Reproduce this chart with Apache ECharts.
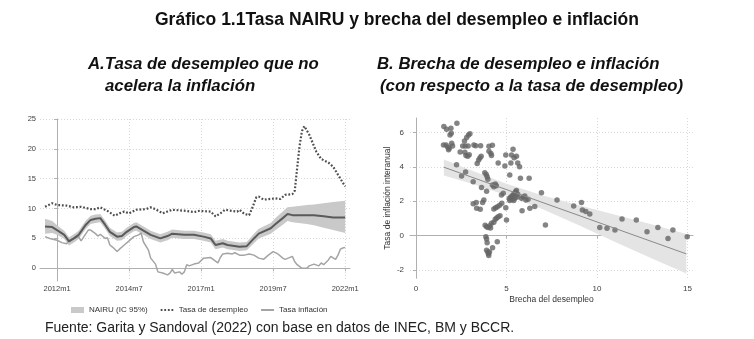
<!DOCTYPE html>
<html>
<head>
<meta charset="utf-8">
<script src="https://cdn.jsdelivr.net/npm/echarts@6/dist/echarts.min.js"></script>
<style>
  html, body { margin: 0; padding: 0; background: #fff; }
  #chart { width: 754px; height: 339px; }
</style>
</head>
<body>
<div id="chart"></div>
<script>
// ---------- Panel A: NAIRU, desempleo e inflación (meses 'AAAAmM') ----------
const nairuMeses = ['2011m8','2011m11','2012m1','2012m4','2012m6','2012m8','2012m10','2013m1','2013m3','2013m5',
  '2013m7','2013m9','2013m11','2014m2','2014m4','2014m6','2014m9','2014m10','2015m1','2015m4',
  '2015m8','2015m11','2016m1','2016m6','2016m10','2017m2','2017m5','2017m7','2017m10','2017m12',
  '2018m5','2018m8','2018m11','2019m1','2019m6','2019m8','2019m11','2020m1','2020m3','2020m9',
  '2020m12','2021m4','2021m8','2022m1'];
const nairu = [7.0,6.9,6.4,5.6,4.5,5.0,5.6,7.3,8.1,8.3,
  8.4,7.3,6.1,5.3,5.4,6.1,6.9,7.0,6.3,5.6,
  5.0,5.4,5.8,5.6,5.6,5.3,5.0,3.9,4.2,3.9,
  3.6,3.7,5.0,5.8,6.7,7.4,8.4,9.1,8.9,8.9,
  8.9,8.7,8.5,8.5];
const nairuInf = [5.8,5.9,5.6,4.9,3.8,4.3,4.9,6.6,7.4,7.6,
  7.7,6.6,5.4,4.6,4.7,5.4,6.2,6.3,5.6,4.9,
  4.3,4.7,5.1,4.9,4.9,4.6,4.3,3.2,3.5,3.2,
  2.9,3.0,4.2,5.0,5.8,6.4,7.3,7.9,7.7,7.4,
  7.2,6.8,6.4,5.9];
const nairuSup = [8.3,7.9,7.2,6.3,5.2,5.7,6.3,8.0,8.8,9.0,
  9.1,8.0,6.8,6.0,6.1,6.8,7.6,7.7,7.0,6.3,
  5.7,6.1,6.5,6.3,6.3,6.0,5.7,4.6,4.9,4.6,
  4.3,4.4,5.8,6.6,7.6,8.4,9.5,10.2,10.3,10.6,
  10.7,10.9,11.1,11.3];

const desempleoMeses = ['2011m8','2011m11','2012m1','2012m5','2012m8','2012m11','2013m1','2013m3','2013m5','2013m7',
  '2013m10','2014m1','2014m3','2014m5','2014m7','2014m10','2015m2','2015m4','2015m6','2015m9',
  '2015m11','2016m1','2016m7','2016m10','2016m12','2017m5','2017m7','2017m9','2017m11','2018m2',
  '2018m4','2018m5','2018m7','2018m9','2018m10','2018m12','2019m1','2019m3','2019m8','2019m10',
  '2019m12','2020m3','2020m4','2020m5','2020m6','2020m7','2020m8','2020m10','2021m1','2021m3',
  '2021m6','2021m8','2021m11','2022m1'];
const desempleo = [10.3,10.9,10.6,10.5,10.2,10.3,10.1,9.9,9.9,10.2,
  9.6,8.8,9.2,9.5,9.2,9.8,9.9,10.2,9.9,9.2,
  9.5,9.8,9.6,9.4,9.6,9.5,8.7,9.2,9.8,9.6,
  9.5,9.8,9.1,8.9,9.8,11.9,12.0,11.5,11.7,11.6,
  12.3,12.4,13.0,16.8,20.5,23.0,23.8,22.4,19.5,18.3,
  17.7,17.0,15.0,13.7];

const inflacionMeses = ['2011m8','2011m10','2012m1','2012m3','2012m5','2012m6','2012m8','2012m10','2012m11','2013m2',
  '2013m3','2013m5','2013m6','2013m7','2013m9','2013m10','2013m11','2013m12','2014m2','2014m3',
  '2014m5','2014m7','2014m9','2014m11','2014m12','2015m1','2015m3','2015m4','2015m6','2015m7',
  '2015m9','2015m11','2015m12','2016m1','2016m2','2016m4','2016m5','2016m6','2016m7','2016m8',
  '2016m10','2016m12','2017m2','2017m5','2017m6','2017m8','2017m9','2017m10','2017m12','2018m2',
  '2018m3','2018m5','2018m7','2018m9','2018m11','2019m1','2019m3','2019m5','2019m7','2019m9',
  '2019m11','2019m12','2020m3','2020m4','2020m5','2020m7','2020m9','2020m10','2020m12','2021m2',
  '2021m3','2021m4','2021m6','2021m7','2021m9','2021m10','2021m11','2021m12','2022m1'];
const inflacion = [5.3,5.0,4.7,4.3,4.1,4.7,5.0,5.3,4.6,6.4,
  6.4,5.8,5.4,5.7,5.0,5.1,3.9,3.6,2.8,3.2,
  3.9,4.6,5.3,5.6,5.9,4.4,3.1,1.7,0.7,-0.6,
  -0.8,-1.1,-0.8,-0.2,-0.8,-0.6,-1.0,-0.6,0.6,0.4,
  0.7,0.9,1.7,1.8,1.5,0.9,1.8,2.4,2.5,2.4,
  2.6,2.2,2.2,2.4,2.2,1.7,1.5,2.2,2.8,2.4,
  1.7,1.5,2.0,1.1,0.6,0.0,0.0,0.4,0.7,0.4,
  0.9,0.6,1.4,2.0,1.5,2.2,3.2,3.4,3.5];

const etiquetasA = ['2012m1','2014m7','2017m1','2019m7','2022m1'];
const ticksAY = [0, 5, 10, 15, 20, 25];

// ---------- Panel B: brecha del desempleo vs. inflación interanual ----------
const brecha = [1.54,1.69,1.93,2.26,1.88,1.95,1.52,1.66,1.97,1.84,2.02,1.75,1.80,
  2.24,2.52,2.74,2.44,2.58,2.68,2.80,2.90,2.98,2.72,2.88,2.70,2.76,2.86,2.94,
  3.20,3.30,3.57,3.16,3.38,3.46,3.53,3.60,3.16,3.33,3.35,3.55,
  3.62,3.75,3.68,3.90,3.80,3.88,3.93,3.97,4.03,4.03,4.14,4.17,4.22,
  3.82,3.90,3.98,4.08,4.12,3.86,3.90,3.93,3.90,3.97,4.02,4.06,4.00,4.23,
  4.22,4.30,4.38,4.44,4.17,4.30,4.38,4.46,4.54,4.64,4.30,4.40,4.50,4.62,4.74,
  4.49,4.54,4.72,4.82,4.96,5.00,4.91,4.96,
  5.18,5.24,5.28,5.36,5.42,5.55,5.62,5.72,5.77,
  5.15,5.22,5.28,5.35,5.42,5.50,5.55,5.46,5.58,5.30,5.18,5.62,5.40,
  5.83,5.92,6.01,5.86,6.07,6.19,6.29,6.25,6.56,
  6.93,7.15,7.79,8.71,9.14,9.19,9.38,9.60,
  10.15,10.55,10.99,11.38,12.17,12.76,13.36,13.92,14.19,14.98];
const inflacionB = [6.34,6.18,6.24,6.53,5.85,5.95,5.27,5.27,5.37,5.08,5.21,5.15,5.00,
  4.12,3.47,3.70,4.86,5.21,5.50,5.70,5.85,5.92,5.21,5.21,4.85,4.66,4.62,4.70,
  5.27,5.22,5.22,3.14,4.20,4.40,4.52,4.62,1.86,1.92,1.60,1.54,
  2.80,2.07,1.92,2.58,3.65,3.55,3.42,3.28,5.20,4.90,4.78,4.66,5.25,
  0.60,0.52,0.48,0.58,0.45,-0.06,-0.20,-0.42,-0.85,-0.95,-1.16,-0.95,-1.05,-0.70,
  2.95,2.85,3.00,2.90,0.72,0.78,0.95,1.02,1.10,1.15,1.55,1.62,1.68,1.76,1.88,
  -0.35,4.22,2.36,2.46,1.62,0.91,4.05,4.69,
  3.53,4.22,4.69,5.02,4.53,4.62,4.22,4.00,3.33,
  2.16,2.22,2.28,2.35,2.45,2.55,2.62,2.18,2.25,2.10,2.05,2.40,2.05,
  2.17,2.25,2.31,1.45,2.07,2.11,1.59,3.33,1.69,
  2.50,0.62,2.07,1.72,1.92,1.49,1.40,1.26,
  0.48,0.43,0.33,0.97,0.91,0.23,0.47,-0.16,0.33,-0.06];

// recta ajustada y su intervalo de confianza
const ajusteX = [1.54, 14.93];
const ajusteY = [3.98, -1.06];
const bandaX = [1.54, 3, 5, 7, 9, 11, 13, 14.93];
const bandaInf = [3.50, 3.05, 2.35, 1.53, 0.60, -0.37, -1.32, -2.20];
const bandaSup = [4.43, 3.81, 3.01, 2.33, 1.76, 1.21, 0.66, 0.10];

const ticksBX = [0, 5, 10, 15];
const ticksBY = [-2, 0, 2, 4, 6];

// ---------- helpers ----------
const FONT = 'Liberation Sans, Arial, sans-serif';
const ym = s => { const p = s.split('m'); return (Number(p[0]) - 2012) * 12 + (Number(p[1]) - 1); };
const ymLabel = v => {
  const y = 2012 + Math.floor(v / 12);
  const m = ((v % 12) + 12) % 12 + 1;
  return y + 'm' + m;
};

// shaded band drawn as one polygon through the axis scales
function bandSeries(name, xs, lo, hi, axisIdx, color) {
  return {
    name: name,
    type: 'custom',
    xAxisIndex: axisIdx, yAxisIndex: axisIdx,
    itemStyle: { color: color },
    encode: { x: 0, y: [1, 2] },
    data: xs.map((x, i) => [x, lo[i], hi[i]]),
    z: 1,
    silent: true,
    renderItem: function (params, api) {
      if (params.dataIndex !== 0) return null;
      const pts = [];
      for (let i = 0; i < xs.length; i++) pts.push(api.coord([xs[i], hi[i]]));
      for (let i = xs.length - 1; i >= 0; i--) pts.push(api.coord([xs[i], lo[i]]));
      return { type: 'polygon', shape: { points: pts }, style: { fill: color } };
    }
  };
}

const axisLineStyle = { color: '#b0b0b0', width: 1 };
const gridLine = { show: true, lineStyle: { color: '#d8d8d8', type: [1, 2], width: 1 } };
const tickLabA = { fontFamily: FONT, fontSize: 7.5, color: '#404040' };
const tickLabB = { fontFamily: FONT, fontSize: 8, color: '#404040' };

const chart = echarts.init(document.getElementById('chart'), null, { renderer: 'canvas' });

chart.setOption({
  animation: false,
  backgroundColor: '#ffffff',
  grid: [
    { left: 40, top: 119, width: 310, height: 162 },
    { left: 410, top: 118, width: 283, height: 160.3 }
  ],
  xAxis: [
    {
      type: 'value', gridIndex: 0,
      min: ym('2011m6') - 0.1, max: ym('2022m3'),
      axisLine: { show: true, lineStyle: axisLineStyle },
      axisTick: { show: true, length: 3, lineStyle: axisLineStyle, customValues: etiquetasA.map(ym) },
      axisLabel: { ...tickLabA, margin: 4, customValues: etiquetasA.map(ym), formatter: v => ymLabel(Math.round(v)) },
      splitLine: gridLine
    },
    {
      type: 'value', gridIndex: 1,
      min: -0.33, max: 15.3,
      name: 'Brecha del desempleo', nameLocation: 'middle', nameGap: 17,
      nameTextStyle: { fontFamily: FONT, fontSize: 8.5, color: '#333' },
      axisLine: { show: true, lineStyle: axisLineStyle },
      axisTick: { show: true, length: 3, lineStyle: axisLineStyle, customValues: ticksBX },
      axisLabel: { ...tickLabB, margin: 6, customValues: ticksBX },
      splitLine: gridLine
    }
  ],
  yAxis: [
    {
      type: 'value', gridIndex: 0,
      min: -2.13, max: 25,
      axisLine: { show: true, lineStyle: axisLineStyle },
      axisTick: { show: true, length: 3, lineStyle: axisLineStyle, customValues: ticksAY },
      axisLabel: { ...tickLabA, margin: 4, customValues: ticksAY },
      splitLine: gridLine
    },
    {
      type: 'value', gridIndex: 1,
      min: -2.48, max: 6.84,
      name: 'Tasa de inflación interanual', nameLocation: 'middle', nameGap: 18,
      nameTextStyle: { fontFamily: FONT, fontSize: 8.5, color: '#333' },
      axisLine: { show: true, lineStyle: axisLineStyle },
      axisTick: { show: true, length: 3, lineStyle: axisLineStyle, customValues: ticksBY },
      axisLabel: { ...tickLabB, margin: 6, customValues: ticksBY },
      splitLine: gridLine
    }
  ],
  legend: {
    left: 66, top: 301,
    itemWidth: 13, itemHeight: 6, itemGap: 12,
    textStyle: { fontFamily: FONT, fontSize: 8, color: '#333' },
    data: [
      { name: 'NAIRU (IC 95%)', icon: 'rect' },
      { name: 'Tasa de desempleo', itemStyle: { opacity: 0 } },
      { name: 'Tasa inflación', itemStyle: { opacity: 0 } }
    ]
  },
  graphic: [
    { type: 'text', x: 397, y: 20, style: { text: 'Gráfico 1.1Tasa NAIRU y brecha del desempleo e inflación',
      font: 'bold 17.5px ' + FONT, fill: '#111', textAlign: 'center', textVerticalAlign: 'middle' } },
    { type: 'text', x: 88, y: 64, style: { text: 'A.Tasa de desempleo que no',
      font: 'italic bold 16.8px ' + FONT, fill: '#111', textAlign: 'left', textVerticalAlign: 'middle' } },
    { type: 'text', x: 105, y: 86, style: { text: 'acelera la inflación',
      font: 'italic bold 16.8px ' + FONT, fill: '#111', textAlign: 'left', textVerticalAlign: 'middle' } },
    { type: 'text', x: 377, y: 64, style: { text: 'B. Brecha de desempleo e inflación',
      font: 'italic bold 16.8px ' + FONT, fill: '#111', textAlign: 'left', textVerticalAlign: 'middle' } },
    { type: 'text', x: 380, y: 86, style: { text: '(con respecto a la tasa de desempleo)',
      font: 'italic bold 16.8px ' + FONT, fill: '#111', textAlign: 'left', textVerticalAlign: 'middle' } },
    { type: 'text', x: 45, y: 328, style: { text: 'Fuente: Garita y Sandoval (2022) con base en datos de INEC, BM y BCCR.',
      font: '14px ' + FONT, fill: '#222', textAlign: 'left', textVerticalAlign: 'middle' } }
  ],
  series: [
    bandSeries('NAIRU (IC 95%)', nairuMeses.map(ym), nairuInf, nairuSup, 0, '#c9c9c9'),
    {
      name: 'NAIRU', type: 'line', xAxisIndex: 0, yAxisIndex: 0, symbol: 'none', z: 3,
      lineStyle: { color: '#5a5a5a', width: 2 },
      data: nairuMeses.map((m, i) => [ym(m), nairu[i]])
    },
    {
      name: 'Tasa inflación', type: 'line', xAxisIndex: 0, yAxisIndex: 0, symbol: 'none', z: 2,
      itemStyle: { color: '#a4a4a4' },
      lineStyle: { color: '#a4a4a4', width: 1.5 },
      data: inflacionMeses.map((m, i) => [ym(m), inflacion[i]])
    },
    {
      name: 'Tasa de desempleo', type: 'line', xAxisIndex: 0, yAxisIndex: 0, symbol: 'none', z: 4,
      itemStyle: { color: '#4e4e4e' },
      lineStyle: { color: '#4e4e4e', width: 2.2, type: [1.8, 1.8], cap: 'butt' },
      data: desempleoMeses.map((m, i) => [ym(m), desempleo[i]])
    },
    bandSeries('IC ajuste', bandaX, bandaInf, bandaSup, 1, '#e4e4e4'),
    {
      name: 'Observaciones', type: 'scatter', xAxisIndex: 1, yAxisIndex: 1, z: 3,
      symbol: 'circle', symbolSize: 5.5,
      itemStyle: { color: '#656565' },
      data: brecha.map((x, i) => [x, inflacionB[i]])
    },
    {
      name: 'Ajuste lineal', type: 'line', xAxisIndex: 1, yAxisIndex: 1, symbol: 'none', z: 4,
      lineStyle: { color: '#8a8a8a', width: 1 },
      data: ajusteX.map((x, i) => [x, ajusteY[i]])
    }
  ]
});
</script>
</body>
</html>
